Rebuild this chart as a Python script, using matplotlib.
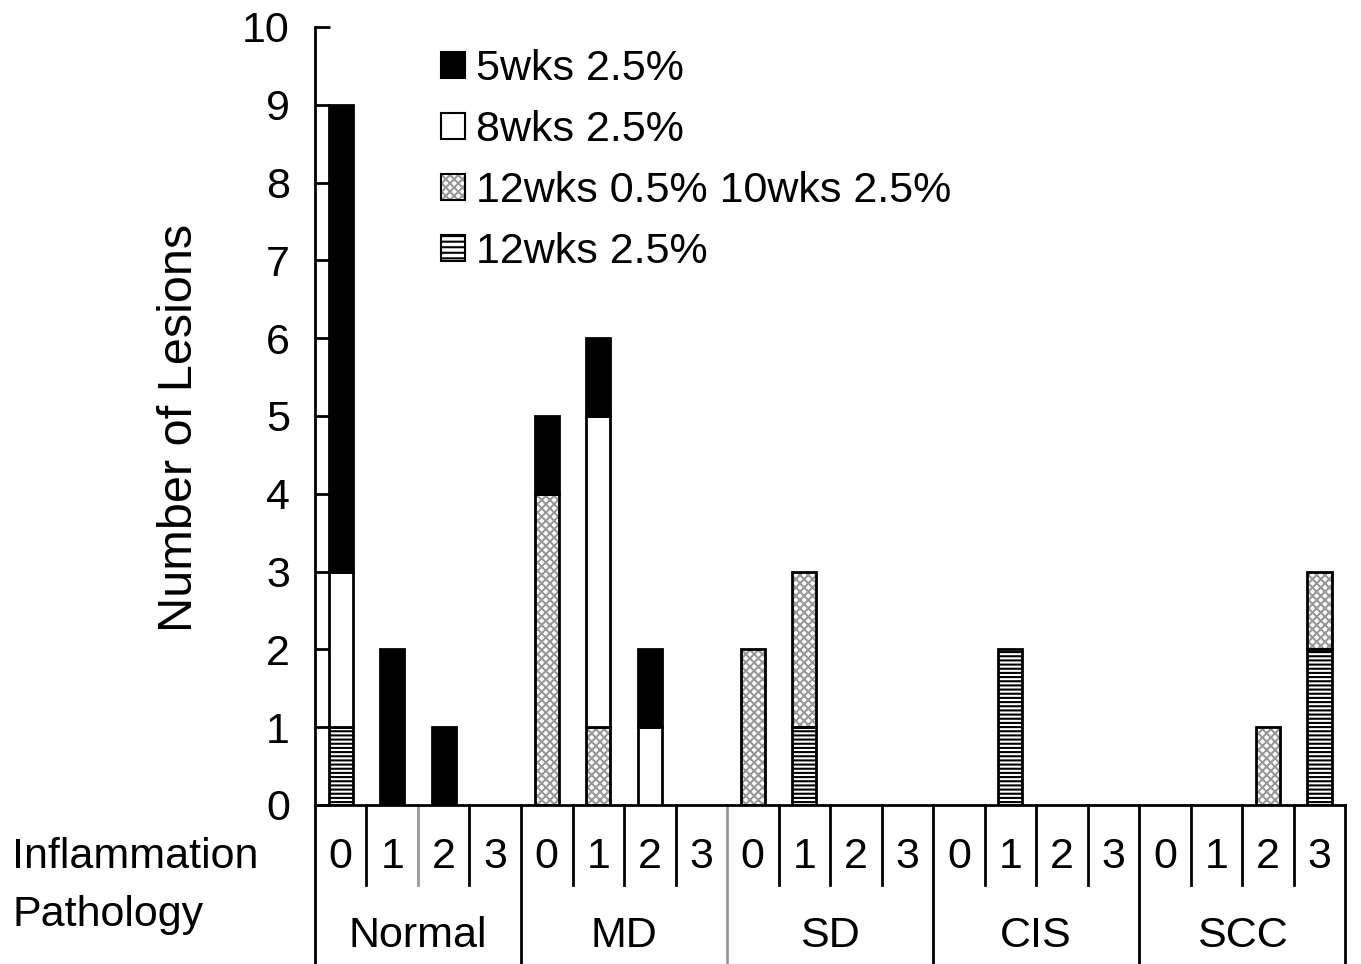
import numpy as np
import matplotlib.pyplot as plt
import matplotlib.transforms as mtransforms
from matplotlib.patches import Patch

plt.rcParams['font.family'] = ['Liberation Sans', 'DejaVu Sans']
plt.rcParams['hatch.linewidth'] = 1.5

# --- data ---
pathology = ["Normal", "MD", "SD", "CIS", "SCC"]
inflammation = ["0", "1", "2", "3"]
series_labels = ["5wks 2.5%", "8wks 2.5%", "12wks 0.5% 10wks 2.5%", "12wks 2.5%"]

# one value per (pathology, inflammation) slot, stacked bottom to top:
# 12wks 2.5%, 12wks 0.5%/10wks 2.5%, 8wks 2.5%, 5wks 2.5%
wk12_25 = [1, 0, 0, 0,  0, 0, 0, 0,  0, 1, 0, 0,  0, 2, 0, 0,  0, 0, 0, 2]
wk12_05 = [0, 0, 0, 0,  4, 1, 0, 0,  2, 2, 0, 0,  0, 0, 0, 0,  0, 0, 1, 1]
wk8_25  = [2, 0, 0, 0,  0, 4, 1, 0,  0, 0, 0, 0,  0, 0, 0, 0,  0, 0, 0, 0]
wk5_25  = [6, 2, 1, 0,  1, 1, 1, 0,  0, 0, 0, 0,  0, 0, 0, 0,  0, 0, 0, 0]

FS = 31
n_slots = len(pathology) * len(inflammation)
x = np.arange(n_slots)
width = 0.47

fig = plt.figure(figsize=(13.61, 9.64), dpi=100)
ax = fig.add_axes([0.2314, 0.165, 0.757, 0.807])


def stack(vals, bottom, face, hatch=None, hatch_col='black'):
    vals = np.array(vals, dtype=float)
    m = vals > 0
    if hatch:
        # hatch drawn in its own colour, then outlined in black
        ax.bar(x[m], vals[m], width, bottom=bottom[m], facecolor='white',
               edgecolor=hatch_col, linewidth=0, hatch=hatch, zorder=2)
        ax.bar(x[m], vals[m], width, bottom=bottom[m], fill=False,
               edgecolor='black', linewidth=2, zorder=3)
    else:
        ax.bar(x[m], vals[m], width, bottom=bottom[m], facecolor=face,
               edgecolor='black', linewidth=2, zorder=3)
    return bottom + vals


bottom = np.zeros(n_slots)
bottom = stack(wk12_25, bottom, 'white', hatch='----', hatch_col='black')
bottom = stack(wk12_05, bottom, 'white', hatch='xxxx', hatch_col='#999999')
bottom = stack(wk8_25, bottom, 'white')
bottom = stack(wk5_25, bottom, 'black')

ax.set_xlim(-0.5, n_slots - 0.5)
ax.set_ylim(0, 10)
ax.set_yticks(range(0, 11))
ax.tick_params(axis='y', direction='in', length=11, width=2, labelsize=FS, pad=18)
ax.set_xticks([])
for s in ['top', 'right']:
    ax.spines[s].set_visible(False)
ax.spines['left'].set_linewidth(2)
ax.spines['bottom'].set_linewidth(2)
ax.set_ylabel("Number of Lesions", fontsize=35)
ax.yaxis.set_label_coords(-0.11, 0.485)

# --- category table under the axis ---
trans = mtransforms.blended_transform_factory(ax.transData, ax.transAxes)
row1 = -0.103
row2 = -0.21
gray_dividers = [2, 8]
for i in range(n_slots + 1):
    xe = i - 0.5
    if i % 4 == 0:
        y_end = row2
    else:
        y_end = row1
    col = '#999999' if i in gray_dividers else 'black'
    ax.plot([xe, xe], [0, y_end], color=col, lw=2, transform=trans, clip_on=False)

for i in range(n_slots):
    ax.text(x[i], -0.067, inflammation[i % 4], transform=trans, ha='center',
            va='center', fontsize=FS)
for g, name in enumerate(pathology):
    ax.text(g * 4 + 1.5, -0.168, name, transform=trans, ha='center',
            va='center', fontsize=FS)

fig.text(12 / 1361, 1 - 857 / 964, "Inflammation", ha='left', va='center', fontsize=FS)
fig.text(12 / 1361, 1 - 915 / 964, "Pathology", ha='left', va='center', fontsize=FS)

# --- legend ---
h_black = Patch(facecolor='black', edgecolor='black', linewidth=1.5)
h_white = Patch(facecolor='white', edgecolor='black', linewidth=1.5)
h_cross = (Patch(facecolor='white', edgecolor='#999999', linewidth=0, hatch='xxxx'),
           Patch(fill=False, edgecolor='black', linewidth=1.5))
h_lines = (Patch(facecolor='white', edgecolor='black', linewidth=0, hatch='---'),
           Patch(fill=False, edgecolor='black', linewidth=1.5))
ax.legend([h_black, h_white, h_cross, h_lines], series_labels, loc='upper left',
          bbox_to_anchor=(0.106, 0.994), frameon=False, fontsize=FS,
          handlelength=0.55, handleheight=0.55, handletextpad=0.25,
          labelspacing=0.49, borderaxespad=0)

fig.savefig("out.png", dpi=100)
